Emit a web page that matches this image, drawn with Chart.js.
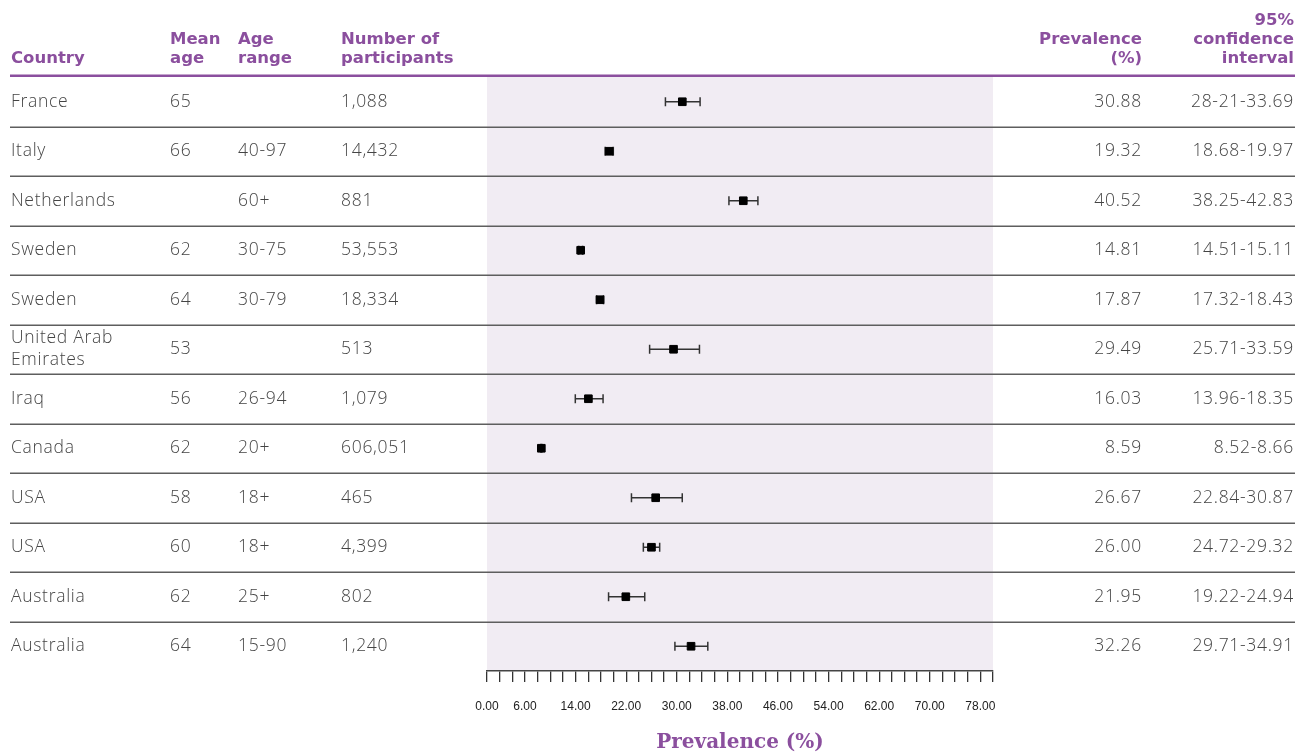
<!DOCTYPE html>
<html>
<head>
<meta charset="utf-8">
<script src="https://cdn.jsdelivr.net/npm/chart.js@4.4.1/dist/chart.umd.min.js"></script>
<style>
  html, body { margin: 0; padding: 0; background: #fff; }
  #wrap { position: relative; width: 1299px; height: 753px; }
</style>
</head>
<body>
<div id="wrap"><canvas id="forest" width="1299" height="753"></canvas></div>
<script>
// table data, one entry per study row
const countries = ["France", "Italy", "Netherlands", "Sweden", "Sweden", "United Arab\nEmirates", "Iraq", "Canada", "USA", "USA", "Australia", "Australia"];
const meanAges = ["65", "66", "", "62", "64", "53", "56", "62", "58", "60", "62", "64"];
const ageRanges = ["", "40-97", "60+", "30-75", "30-79", "", "26-94", "20+", "18+", "18+", "25+", "15-90"];
const participants = ["1,088", "14,432", "881", "53,553", "18,334", "513", "1,079", "606,051", "465", "4,399", "802", "1,240"];
const prevalence = [30.88, 19.32, 40.52, 14.81, 17.87, 29.49, 16.03, 8.59, 26.67, 26.00, 21.95, 32.26];
// whisker ends as drawn in the plot
const ciLow = [28.21, 18.68, 38.25, 14.51, 17.32, 25.71, 13.96, 8.52, 22.84, 24.72, 19.22, 29.71];
const ciHigh = [33.69, 19.97, 42.83, 15.11, 18.43, 33.59, 18.35, 8.66, 30.87, 27.3, 24.94, 34.91];
const ciLabels = ["28-21-33.69", "18.68-19.97", "38.25-42.83", "14.51-15.11", "17.32-18.43", "25.71-33.59", "13.96-18.35", "8.52-8.66", "22.84-30.87", "24.72-29.32", "19.22-24.94", "29.71-34.91"];
const tickLabels = [0, 6, 14, 22, 30, 38, 46, 54, 62, 70, 78];

const PURPLE = "#8b4f9e";

const forestTable = {
  id: "forestTable",
  beforeDraw(chart) {
    const { ctx, chartArea: a } = chart;
    ctx.save();
    ctx.fillStyle = "#f1ecf3";
    ctx.fillRect(a.left, a.top, a.right - a.left, a.bottom - a.top);
    ctx.restore();
  },
  beforeDatasetsDraw(chart) {
    const { ctx } = chart;
    const xs = chart.scales.x, ys = chart.scales.y;
    ctx.save();
    // row separators
    ctx.strokeStyle = "#5e5e5e";
    ctx.lineWidth = 1.6;
    for (let i = 0; i < countries.length - 1; i++) {
      const y = Math.round(ys.getPixelForValue(i + 0.5)) + 0.25;
      ctx.beginPath();
      ctx.moveTo(10, y);
      ctx.lineTo(1295, y);
      ctx.stroke();
    }
    // header rule
    ctx.strokeStyle = PURPLE;
    ctx.lineWidth = 2.5;
    ctx.beginPath();
    ctx.moveTo(10, 75.8);
    ctx.lineTo(1295, 75.8);
    ctx.stroke();
    // confidence interval whiskers
    ctx.strokeStyle = "#333";
    ctx.lineWidth = 1.5;
    prevalence.forEach((p, i) => {
      const y = ys.getPixelForValue(i);
      const x1 = xs.getPixelForValue(ciLow[i]);
      const x2 = xs.getPixelForValue(ciHigh[i]);
      ctx.beginPath();
      ctx.moveTo(x1, y);
      ctx.lineTo(x2, y);
      ctx.moveTo(x1, y - 4.5);
      ctx.lineTo(x1, y + 4.5);
      ctx.moveTo(x2, y - 4.5);
      ctx.lineTo(x2, y + 4.5);
      ctx.stroke();
    });
    ctx.restore();
  },
  afterDraw(chart) {
    const { ctx } = chart;
    const ys = chart.scales.y;
    ctx.save();
    ctx.textBaseline = "middle";

    // headers
    ctx.fillStyle = PURPLE;
    ctx.font = 'bold 16.5px "DejaVu Sans"';
    const headers = [
      { x: 11, align: "left", lines: ["Country"] },
      { x: 170, align: "left", lines: ["Mean", "age"] },
      { x: 238, align: "left", lines: ["Age", "range"] },
      { x: 341, align: "left", lines: ["Number of", "participants"] },
      { x: 1142, align: "right", lines: ["Prevalence", "(%)"] },
      { x: 1294, align: "right", lines: ["95%", "confidence", "interval"] }
    ];
    headers.forEach(h => {
      ctx.textAlign = h.align;
      const n = h.lines.length;
      h.lines.forEach((t, k) => ctx.fillText(t, h.x, 59 - (n - 1 - k) * 19));
    });

    // body rows
    ctx.fillStyle = "#444";
    ctx.font = '300 17.5px "Open Sans"';
    ctx.letterSpacing = "0.7px";
    countries.forEach((c, i) => {
      const y = ys.getPixelForValue(i);
      ctx.textAlign = "left";
      const lines = c.split("\n");
      lines.forEach((t, k) => ctx.fillText(t, 11, y + (k - (lines.length - 1) / 2) * 22));
      ctx.fillText(meanAges[i], 170, y);
      ctx.fillText(ageRanges[i], 238, y);
      ctx.fillText(participants[i], 341, y);
      ctx.textAlign = "right";
      ctx.fillText(prevalence[i].toFixed(2), 1142, y);
      ctx.fillText(ciLabels[i], 1294, y);
    });
    ctx.restore();
  }
};

new Chart(document.getElementById("forest"), {
  type: "scatter",
  data: {
    datasets: [{
      data: prevalence.map((p, i) => ({ x: p, y: i })),
      pointStyle: "rect",
      pointRadius: 5.4,
      pointBorderWidth: 1,
      backgroundColor: "#000",
      borderColor: "#000"
    }]
  },
  options: {
    responsive: false,
    animation: false,
    events: [],
    devicePixelRatio: 1,
    layout: { padding: { left: 487, right: 306, top: 77, bottom: 0 } },
    plugins: { legend: { display: false }, tooltip: { enabled: false } },
    scales: {
      x: {
        type: "linear",
        position: "bottom",
        min: 0,
        max: 80,
        afterFit: (s) => { s.height = 82; },
        border: { display: true, color: "#444", width: 1.5 },
        grid: { drawOnChartArea: false, drawTicks: true, tickLength: 11, color: "#333", lineWidth: 1.3 },
        ticks: {
          stepSize: 2,
          autoSkip: false,
          maxRotation: 0,
          padding: 17,
          color: "#222",
          font: { family: '"Liberation Sans", Arial, sans-serif', size: 12 },
          callback: (v) => tickLabels.includes(v) ? v.toFixed(2) : ""
        },
        title: {
          display: true,
          text: "Prevalence (%)",
          color: PURPLE,
          font: { family: '"DejaVu Serif", serif', weight: "bold", size: 20 },
          padding: { top: 0, bottom: -2 }
        }
      },
      y: {
        type: "linear",
        display: false,
        reverse: true,
        min: -0.5,
        max: 11.5
      }
    }
  },
  plugins: [forestTable]
});
</script>
</body>
</html>
